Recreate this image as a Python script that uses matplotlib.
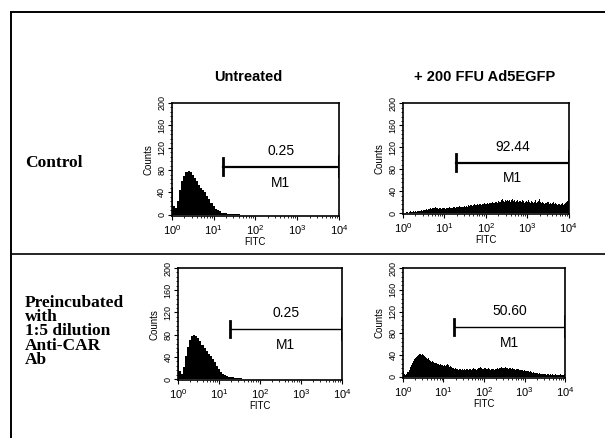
import numpy as np
import matplotlib
matplotlib.use('Agg')
import matplotlib.pyplot as plt
from matplotlib.lines import Line2D
from matplotlib.ticker import FixedLocator, MultipleLocator, LogLocator, NullFormatter

plt.rcParams['font.family'] = ['Liberation Sans', 'DejaVu Sans']
plt.rcParams['mathtext.fontset'] = 'custom'
plt.rcParams['mathtext.rm'] = 'Liberation Sans'
plt.rcParams['mathtext.default'] = 'regular'

# column / row headers
col_titles = ['Untreated', '+ 200 FFU Ad5EGFP']
row_labels = ['Control', 'Preincubated\nwith\n1:5 dilution\nAnti-CAR\nAb']

# histogram counts, bins in log10(FITC) units
step_smooth = 0.05
step_fine = 0.025
untreated_ctrl = [50, 15, 12, 25, 45, 60, 70, 76, 78, 77, 72, 66, 60, 54, 48, 44, 40, 34, 28, 22,
                  16, 11, 8, 6, 4, 3, 3, 2, 2, 2, 1.5, 1.5, 1, 0.5, 0]
untreated_ab = [55, 14, 10, 22, 42, 58, 70, 77, 80, 78, 74, 68, 62, 56, 50, 45, 41, 36, 30, 24,
                18, 13, 9, 7, 5, 4, 3, 3, 2, 2, 2, 1.5, 1, 1, 0.5, 0]
infected_ctrl = [2, 1, 1, 2, 2, 1, 2, 3, 2, 2, 3, 2, 3, 2, 3, 4, 3, 4, 5, 4, 5,
                 6, 5, 7, 6, 8, 7, 9, 8, 10, 9, 11, 10, 9, 8, 10, 9, 8, 9, 10, 9,
                 8, 9, 10, 9, 11, 10, 9, 10, 11, 12, 10, 11, 12, 11, 13, 12, 11, 12, 13, 12,
                 13, 12, 14, 13, 15, 14, 13, 15, 16, 14, 15, 16, 15, 17, 16, 15, 17, 16, 18, 17,
                 16, 18, 17, 19, 18, 20, 18, 19, 21, 20, 19, 22, 21, 20, 23, 25, 22, 21, 24, 22,
                 23, 22, 24, 21, 23, 25, 22, 24, 21, 22, 23, 20, 22, 21, 24, 22, 19, 20, 22, 20,
                 24, 21, 19, 22, 20, 18, 21, 23, 19, 20, 22, 25, 21, 19, 20, 18, 17, 19, 18, 20,
                 17, 19, 16, 18, 20, 17, 18, 16, 15, 17, 16, 14, 16, 18, 15, 17, 19, 20, 22, 115]
infected_ab = [18, 10, 5, 4, 6, 9, 13, 18, 22, 26, 29, 32, 34, 36, 38, 40, 42, 43, 41, 42, 40,
               38, 37, 35, 33, 34, 31, 30, 28, 29, 27, 26, 25, 26, 24, 23, 22, 24, 21, 22, 20,
               21, 20, 22, 24, 21, 19, 20, 18, 17, 16, 15, 16, 14, 15, 13, 14, 15, 13, 14, 13,
               14, 13, 15, 14, 13, 15, 14, 13, 14, 16, 15, 14, 13, 15, 17, 16, 18, 16, 15, 17,
               16, 15, 14, 16, 15, 13, 14, 15, 14, 13, 14, 15, 16, 15, 17, 16, 18, 17, 16, 17,
               18, 16, 17, 15, 16, 17, 15, 16, 14, 15, 13, 14, 15, 14, 13, 12, 13, 12, 11, 12,
               11, 10, 11, 10, 9, 10, 9, 8, 9, 8, 7, 8, 7, 6, 7, 6, 5, 6, 5, 6,
               5, 4, 5, 6, 4, 5, 4, 5, 3, 4, 5, 4, 3, 4, 5, 4, 3, 4, 5, 10]

# M1 gate: start (log10), bar height, percentage text
gate_start = [1.22, 1.29, 1.27, 1.26]
gate_y = [86, 92, 90, 92]
gate_pct = ['0.25', '92.44', '0.25', '50.60']
gate_lw = [1.6, 1.6, 1.0, 1.0]

panels = [
    (untreated_ctrl, step_smooth, [0.284, 0.507, 0.276, 0.258]),
    (infected_ctrl, step_fine, [0.666, 0.511, 0.274, 0.253]),
    (untreated_ab, step_smooth, [0.294, 0.132, 0.271, 0.256]),
    (infected_ab, step_fine, [0.666, 0.137, 0.268, 0.251]),
]

fig = plt.figure(figsize=(6.05, 4.38), dpi=100)

for i, (counts, step, pos) in enumerate(panels):
    ax = fig.add_axes(pos)
    logs = np.arange(len(counts)) * step
    ax.fill_between(10 ** logs, counts, step='mid', color='black', linewidth=0)
    ax.set_xscale('log')
    ax.set_xlim(1, 1e4)
    ax.set_ylim(-2, 200)

    # gate marker
    g0 = 10 ** gate_start[i]
    ax.plot([g0, 1e4], [gate_y[i], gate_y[i]], color='black', lw=gate_lw[i])
    ax.plot([g0, g0], [gate_y[i] - 15, gate_y[i] + 15], color='black', lw=2)
    ax.plot([1e4, 1e4], [gate_y[i] - 17, gate_y[i] + 20], color='black', lw=2)
    xm = 10 ** ((gate_start[i] + 4) / 2)
    ax.text(xm, gate_y[i] + 16, gate_pct[i], ha='center', va='bottom', fontsize=10)
    ax.text(xm, gate_y[i] - 16, 'M1', ha='center', va='top', fontsize=10)

    ax.yaxis.set_major_locator(FixedLocator([0, 40, 80, 120, 160, 200]))
    ax.yaxis.set_minor_locator(MultipleLocator(8))
    ax.xaxis.set_major_locator(FixedLocator([1, 10, 100, 1000, 10000]))
    ax.xaxis.set_minor_locator(LogLocator(base=10, subs=np.arange(1, 10) * 1.0, numticks=20))
    ax.xaxis.set_minor_formatter(NullFormatter())
    ax.set_xticklabels(['$10^{0}$', '$10^{1}$', '$10^{2}$', '$10^{3}$', '$10^{4}$'])
    ax.tick_params(axis='both', which='major', length=3, width=0.8, labelsize=8, pad=1)
    ax.tick_params(axis='x', which='major', pad=2)
    ax.tick_params(axis='both', which='minor', length=1.5, width=0.6)
    for lab in ax.get_yticklabels():
        lab.set_rotation(90)
        lab.set_va('center')
        lab.set_fontsize(6.5)
    for sp in ax.spines.values():
        sp.set_linewidth(1.2)
    ax.set_ylabel('Counts', fontsize=7, labelpad=3)
    ax.set_xlabel('FITC', fontsize=7, labelpad=0)

# column titles
fig.text(248 / 605, 1 - 77 / 438, col_titles[0], ha='center', va='center',
         fontsize=10.5, fontweight='bold')
fig.text(485 / 605, 1 - 77 / 438, col_titles[1], ha='center', va='center',
         fontsize=10.5, fontweight='bold')

# row labels
fig.text(25 / 605, 1 - 163 / 438, row_labels[0], ha='left', va='center',
         fontsize=12.5, fontweight='bold', family='Liberation Serif')
fig.text(25 / 605, 1 - 295 / 438, row_labels[1], ha='left', va='top',
         fontsize=12.5, fontweight='bold', family='Liberation Serif', linespacing=0.85)

# outer frame and divider
fig.add_artist(Line2D([10.5 / 605, 10.5 / 605], [0, 1 - 12 / 438], color='black', lw=1.4))
fig.add_artist(Line2D([10.5 / 605, 1], [1 - 12 / 438, 1 - 12 / 438], color='black', lw=1.4))
fig.add_artist(Line2D([10.5 / 605, 1], [1 - 254 / 438, 1 - 254 / 438], color='black', lw=1.2))

fig.savefig('out.png', dpi=100)
